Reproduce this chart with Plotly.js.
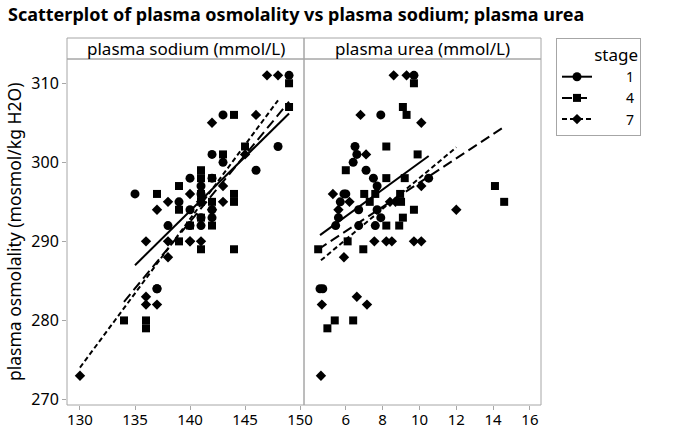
<!DOCTYPE html>
<html>
<head>
<meta charset="utf-8">
<script src="https://cdn.plot.ly/plotly-3.0.1.min.js"></script>
<style>
  html, body { margin: 0; padding: 0; background: #fff; }
  #chart { width: 680px; height: 429px; }
</style>
</head>
<body>
<div id="chart"></div>
<script>
// one observation per index: sodium, urea and osmolality share the index
const stages = ['1', '4', '7'];

const sodium1 = [149, 143, 148, 142, 143, 146, 142, 140, 141, 135, 141, 139, 142, 140, 141, 142, 138, 140, 141, 137, 137];
const urea1   = [9.7, 7.9, 6.5, 6.6, 6.4, 7.1, 7.5, 10.5, 7.7, 5.9, 6.0, 5.7, 6.7, 7.7, 5.6, 7.9, 5.45, 6.7, 7.6, 4.6, 4.75];
const osmo1   = [311, 306, 302, 301, 300, 299, 298, 298, 297, 296, 296, 295, 294, 294, 293, 293, 292, 292, 292, 284, 284];

const sodium4 = [149, 149, 144, 145, 143, 141, 141, 142, 139, 137, 144, 141, 144, 142, 141, 139, 141, 142, 140, 139, 141, 144, 134, 136, 136];
const urea4   = [9.7, 9.1, 9.3, 8.2, 9.9, 6.0, 8.2, 9.2, 14.1, 7.0, 7.6, 8.95, 9.0, 7.3, 14.6, 9.7, 9.1, 8.2, 8.9, 6.1, 4.5, 6.95, 5.4, 6.4, 5.0];
const osmo4   = [310, 307, 306, 302, 301, 299, 298, 298, 297, 296, 296, 296, 295, 295, 295, 294, 293, 292, 292, 290, 289, 289, 280, 280, 279];

const sodium7 = [147, 148, 146, 142, 145, 143, 140, 138, 143, 141, 137, 142, 136, 138, 140, 141, 140, 138, 136, 136, 137, 130];
const urea7   = [8.6, 9.3, 6.8, 10.1, 7.1, 10.1, 5.3, 6.2, 8.4, 8.7, 5.6, 12.0, 7.55, 8.2, 8.5, 9.7, 10.1, 5.9, 6.6, 4.7, 7.15, 4.65];
const osmo7   = [311, 311, 306, 305, 301, 297, 296, 295, 295, 295, 294, 294, 290, 290, 290, 290, 290, 288, 283, 282, 282, 273];

// fitted lines (per stage 1, 4, 7)
const sodiumFitSlope     = [1.371, 1.687, 1.878];
const sodiumFitIntercept = [101.9, 56.3, 29.9];
const ureaFitSlope       = [1.695, 1.537, 1.946];
const ureaFitIntercept   = [283.0, 282.06, 278.55];

const sodiumTicks = [130, 135, 140, 145, 150];
const ureaTicks   = [6, 8, 10, 12, 14, 16];
const osmoTicks   = [270, 280, 290, 300, 310];

const sodiumByStage = [sodium1, sodium4, sodium7];
const ureaByStage   = [urea1, urea4, urea7];
const osmoByStage   = [osmo1, osmo4, osmo7];

const symbols = ['circle', 'square', 'diamond'];
const sizes   = [9, 8, 8];
const dashes  = ['solid', '10px,5px', '5px,3px'];
const FONT = 'Noto Sans, Open Sans, sans-serif';
const FRAME = '#a6a6a6';

function fitTrace(xs, slope, intercept, dash, xaxis) {
    const lo = Math.min(...xs), hi = Math.max(...xs);
    return {
        x: [lo, hi],
        y: [intercept + slope * lo, intercept + slope * hi],
        mode: 'lines', type: 'scatter', xaxis: xaxis, yaxis: 'y',
        line: { color: '#000', width: 2, dash: dash },
        showlegend: false, hoverinfo: 'skip'
    };
}

const traces = [];
stages.forEach((st, i) => {
    const marker = { color: '#000', symbol: symbols[i], size: sizes[i] };
    traces.push({
        x: sodiumByStage[i], y: osmoByStage[i], mode: 'markers', type: 'scatter',
        xaxis: 'x', yaxis: 'y', marker: marker, showlegend: false
    });
    traces.push({
        x: ureaByStage[i], y: osmoByStage[i], mode: 'markers', type: 'scatter',
        xaxis: 'x2', yaxis: 'y', marker: marker, showlegend: false
    });
    traces.push(fitTrace(sodiumByStage[i], sodiumFitSlope[i], sodiumFitIntercept[i], dashes[i], 'x'));
    traces.push(fitTrace(ureaByStage[i], ureaFitSlope[i], ureaFitIntercept[i], dashes[i], 'x2'));
    // legend entry only
    traces.push({
        x: [null], y: [null], mode: 'lines+markers', type: 'scatter',
        xaxis: 'x', yaxis: 'y', name: '\u00a0'.repeat(8) + st,
        marker: marker, line: { color: '#000', width: 2, dash: dashes[i] }
    });
});

const plotH = 429 - 59 - 24;
const stripTop = 1 + 21 / plotH;

const axisCommon = {
    showgrid: false, zeroline: false, showline: false,
    ticks: 'outside', ticklen: 4, tickcolor: FRAME,
    tickfont: { family: FONT, size: 16, color: '#000' }
};
const xTickFont = { family: FONT, size: 15, color: '#000' };

const shapes = [];
const annotations = [];
[['x domain', 'plasma sodium (mmol/L)'], ['x2 domain', 'plasma urea (mmol/L)']].forEach(([xref, label]) => {
    shapes.push({ type: 'rect', xref: xref, yref: 'y domain', x0: 0, x1: 1, y0: 0, y1: 1,
                  line: { color: FRAME, width: 1 } });
    shapes.push({ type: 'rect', xref: xref, yref: 'paper', x0: 0, x1: 1, y0: 1, y1: stripTop,
                  line: { color: FRAME, width: 1 } });
    annotations.push({ xref: xref, yref: 'paper', x: 0.5, y: (1 + stripTop) / 2,
                       xanchor: 'center', yanchor: 'middle', showarrow: false, text: label,
                       font: { family: FONT, size: 17, color: '#000' } });
});
annotations.push({
    xref: 'paper', yref: 'paper', x: -(67 - 14) / 474, y: 0.5, xanchor: 'center', yanchor: 'middle',
    textangle: -90, showarrow: false, text: 'plasma osmolality (mosmol/kg H2O)',
    font: { family: FONT, size: 17.5, color: '#000' }
});

const layout = {
    width: 680, height: 429,
    margin: { l: 67, r: 139, t: 59, b: 24 },
    paper_bgcolor: '#fff', plot_bgcolor: '#fff',
    title: {
        text: '<b>Scatterplot of plasma osmolality vs plasma sodium; plasma urea</b>',
        x: 8 / 680, xanchor: 'left', xref: 'container',
        y: 1 - 15 / 429, yanchor: 'middle', yref: 'container',
        font: { family: FONT, size: 18, color: '#000' }
    },
    xaxis: Object.assign({}, axisCommon, { domain: [0, 0.5], range: [128.82, 150.36], tickvals: sodiumTicks,
                                           tickfont: xTickFont, ticklabelstandoff: -3 }),
    xaxis2: Object.assign({}, axisCommon, { domain: [0.5, 1], range: [3.73, 16.6], tickvals: ureaTicks, anchor: 'y',
                                            tickfont: xTickFont, ticklabelstandoff: -3 }),
    yaxis: Object.assign({}, axisCommon, { range: [269.3, 313.07], tickvals: osmoTicks }),
    showlegend: true,
    legend: {
        x: (556 - 67) / 474, y: stripTop, xanchor: 'left', yanchor: 'top',
        bordercolor: FRAME, borderwidth: 1, bgcolor: '#fff',
        font: { family: FONT, size: 14, color: '#000' },
        title: { text: 'stage', side: 'top right', font: { family: FONT, size: 17, color: '#000' } },
        tracegroupgap: 0
    },
    shapes: shapes,
    annotations: annotations
};

Plotly.newPlot('chart', traces, layout, { displayModeBar: false, staticPlot: true });
</script>
</body>
</html>
